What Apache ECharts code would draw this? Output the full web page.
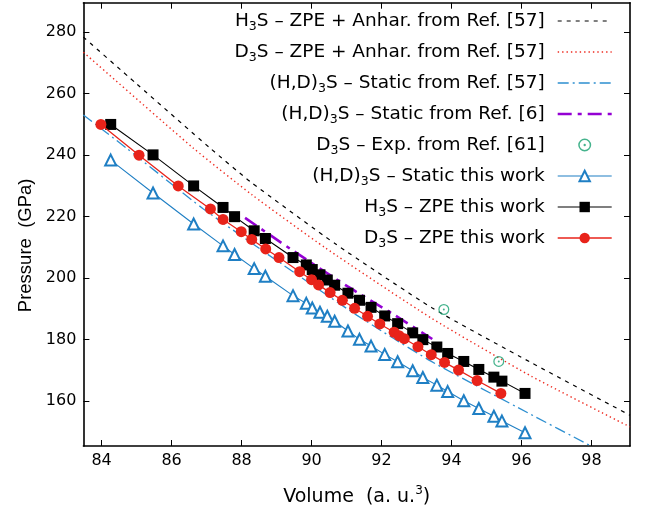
<!DOCTYPE html>
<html>
<head>
<meta charset="utf-8">
<script src="https://cdn.jsdelivr.net/npm/echarts@6/dist/echarts.min.js"></script>
<style>html,body{margin:0;padding:0;background:#fff}#c{width:653px;height:514px}</style>
</head>
<body>
<div id="c"></div>
<script>
// ---- data ----
const xTicks = [84, 86, 88, 90, 92, 94, 96, 98];
const yTicks = [160, 180, 200, 220, 240, 260, 280];

// H3S ZPE this work (squares) and (H,D)3S static this work (triangles) share volumes
const volH3S = [84.26, 85.47, 86.63, 87.47, 87.80, 88.36, 88.68, 89.47, 89.85, 90.02, 90.24, 90.45, 90.66, 91.04, 91.37, 91.70, 92.09, 92.46, 92.89, 93.18, 93.58, 93.89, 94.35, 94.78, 95.21, 95.44, 96.10];
const presH3S = [250.0, 240.1, 230.0, 223.0, 220.0, 215.4, 212.9, 206.7, 204.3, 202.8, 201.1, 199.4, 197.7, 195.1, 192.8, 190.5, 187.7, 185.2, 182.2, 180.0, 177.6, 175.5, 172.9, 170.3, 167.8, 166.5, 162.5];
const presStatic = [238.4, 227.7, 217.6, 210.5, 207.7, 203.1, 200.6, 194.3, 191.8, 190.3, 188.9, 187.6, 186.0, 182.8, 180.1, 177.9, 175.2, 172.8, 169.9, 167.7, 165.2, 163.1, 160.1, 157.6, 155.1, 153.5, 149.7];

// D3S ZPE this work (circles)
const volD3S = [83.98, 85.07, 86.19, 87.11, 87.47, 87.99, 88.29, 88.69, 89.07, 89.66, 90.00, 90.20, 90.53, 90.88, 91.23, 91.60, 91.95, 92.36, 92.50, 92.65, 93.04, 93.42, 93.80, 94.20, 94.73, 95.41];
const presD3S = [250.0, 240.0, 230.0, 222.5, 219.1, 215.1, 212.6, 209.5, 206.7, 202.1, 199.5, 197.8, 195.3, 192.8, 190.2, 187.6, 185.1, 182.4, 181.3, 180.3, 177.7, 175.1, 172.6, 170.1, 166.7, 162.5];

// D3S experiment Ref. [61]
const volExp = [93.78, 95.35];
const presExp = [189.8, 172.9];

// H3S ZPE + Anhar. Ref. [57]
const volAnhH = [83.48, 85.00, 87.10, 88.25, 90.70, 93.45, 96.28, 99.10];
const presAnhH = [278.4, 263.2, 242.3, 231.4, 211.0, 190.3, 172.5, 155.4];
// D3S ZPE + Anhar. Ref. [57]
const volAnhD = [83.48, 86.62, 88.30, 90.40, 93.41, 96.28, 99.10];
const presAnhD = [273.5, 242.3, 227.1, 209.8, 187.1, 168.1, 151.6];
// (H,D)3S static Ref. [57]
const volSt57 = [83.48, 84.71, 86.90, 89.11, 91.30, 93.41, 96.18, 97.95];
const presSt57 = [253.1, 242.3, 222.6, 204.9, 187.9, 173.0, 156.2, 145.6];
// (H,D)3S static Ref. [6]
const volSt6 = [88.10, 89.50, 91.03, 92.30, 93.45];
const presSt6 = [219.6, 208.7, 197.3, 188.5, 180.2];

const names = [
  'H3S – ZPE + Anhar. from Ref. [57]',
  'D3S – ZPE + Anhar. from Ref. [57]',
  '(H,D)3S – Static from Ref. [57]',
  '(H,D)3S – Static from Ref. [6]',
  'D3S – Exp. from Ref. [61]',
  '(H,D)3S – Static this work',
  'H3S – ZPE this work',
  'D3S – ZPE this work'
];

const zip = (a, b) => a.map((v, i) => [v, b[i]]);

const FONT = 'DejaVu Sans';
const axisCommon = {
  type: 'value',
  axisLine: { show: true, onZero: false, lineStyle: { color: '#000', width: 1.6 } },
  axisTick: { show: true, inside: true, length: 6, lineStyle: { color: '#000', width: 1 } },
  splitLine: { show: false }
};

const ringPath = 'path://M10,0A10,10,0,1,1,-10,0A10,10,0,1,1,10,0ZM7.7,0A7.7,7.7,0,1,0,-7.7,0A7.7,7.7,0,1,0,7.7,0ZM1.8,0A1.8,1.8,0,1,1,-1.8,0A1.8,1.8,0,1,1,1.8,0Z';

const option = {
  animation: false,
  backgroundColor: '#fff',
  grid: { left: 83.4, right: 23, top: 2.7, bottom: 67.3 },
  xAxis: [
    Object.assign({}, axisCommon, {
      position: 'bottom', min: 83.48, max: 99.1,
      axisTick: Object.assign({}, axisCommon.axisTick, { customValues: xTicks }),
      axisLabel: { customValues: xTicks, color: '#000', fontFamily: FONT, fontSize: 16, margin: 7 },
      name: 'Volume  (a. u.{sup|3})', nameLocation: 'middle', nameGap: 39,
      nameTextStyle: { color: '#000', fontFamily: FONT, fontSize: 19, lineHeight: 24,
        rich: { sup: { fontFamily: FONT, fontSize: 12, lineHeight: 10, verticalAlign: 'top', color: '#000' } } }
    }),
    Object.assign({}, axisCommon, {
      position: 'top', min: 83.48, max: 99.1,
      axisTick: Object.assign({}, axisCommon.axisTick, { customValues: xTicks }),
      axisLabel: { show: false }
    })
  ],
  yAxis: [
    Object.assign({}, axisCommon, {
      position: 'left', min: 145.4, max: 289.6,
      axisTick: Object.assign({}, axisCommon.axisTick, { customValues: yTicks }),
      axisLabel: { customValues: yTicks, color: '#000', fontFamily: FONT, fontSize: 16, margin: 7 },
      name: 'Pressure  (GPa)', nameLocation: 'middle', nameGap: 47, nameRotate: 90,
      nameTextStyle: { color: '#000', fontFamily: 'Liberation Sans', fontSize: 18.5, padding: [0, 42, 0, 0] }
    }),
    Object.assign({}, axisCommon, {
      position: 'right', min: 145.4, max: 289.6,
      axisTick: Object.assign({}, axisCommon.axisTick, { customValues: yTicks }),
      axisLabel: { show: false }
    })
  ],
  legend: {
    orient: 'vertical', align: 'right', right: 40, top: 9, padding: 0,
    itemWidth: 54, itemHeight: 13, itemGap: 7,
    data: names,
    lineStyle: { width: 'inherit' },
    formatter: n => n.replace('3S', '{s|3}S'),
    textStyle: { color: '#000', fontFamily: FONT, fontSize: 18.5, lineHeight: 24, padding: [0, 8, 0, 0],
      rich: { s: { fontFamily: FONT, fontSize: 12.5, lineHeight: 10, verticalAlign: 'bottom', color: '#000' } } }
  },
  series: [
    { name: names[0], type: 'line', data: zip(volAnhH, presAnhH), smooth: 0.2,
      symbol: 'none', itemStyle: { opacity: 0, color: '#000' },
      lineStyle: { color: '#000', width: 1.2, type: [4, 5] }, z: 2 },
    { name: names[1], type: 'line', data: zip(volAnhD, presAnhD), smooth: 0.2,
      symbol: 'none', itemStyle: { opacity: 0, color: '#ee2a1f' },
      lineStyle: { color: '#ee2a1f', width: 1.4, type: [1.4, 3] }, z: 2 },
    { name: names[2], type: 'line', data: zip(volSt57, presSt57), smooth: 0.2,
      symbol: 'none', itemStyle: { opacity: 0, color: '#2d8fd0' },
      lineStyle: { color: '#2d8fd0', width: 1.3, type: [11, 4, 2, 4] }, z: 2 },
    { name: names[3], type: 'line', data: zip(volSt6, presSt6), smooth: 0.2,
      symbol: 'none', itemStyle: { opacity: 0, color: '#9400d3' },
      lineStyle: { color: '#9400d3', width: 2.6, type: [14, 6, 4, 6] }, z: 2 },
    { name: names[4], type: 'scatter', data: zip(volExp, presExp),
      symbol: ringPath, symbolSize: 11, itemStyle: { color: '#17a070' }, z: 3 },
    { name: names[5], type: 'line', data: zip(volH3S, presStatic),
      symbol: 'emptyTriangle', symbolSize: 11, showAllSymbol: true,
      itemStyle: { color: '#1f7fc4', borderColor: '#1f7fc4', borderWidth: 1.2 },
      lineStyle: { color: '#1f7fc4', width: 1.1 }, z: 4 },
    { name: names[6], type: 'line', data: zip(volH3S, presH3S),
      symbol: 'rect', symbolSize: 11, showAllSymbol: true,
      itemStyle: { color: '#000' },
      lineStyle: { color: '#000', width: 1.1 }, z: 5 },
    { name: names[7], type: 'line', data: zip(volD3S, presD3S),
      symbol: 'circle', symbolSize: 11, showAllSymbol: true,
      itemStyle: { color: '#e8231a' },
      lineStyle: { color: '#e8231a', width: 1.3 }, z: 6 }
  ]
};

const chart = echarts.init(document.getElementById('c'), null, { renderer: 'canvas' });
chart.setOption(option);
</script>
</body>
</html>
